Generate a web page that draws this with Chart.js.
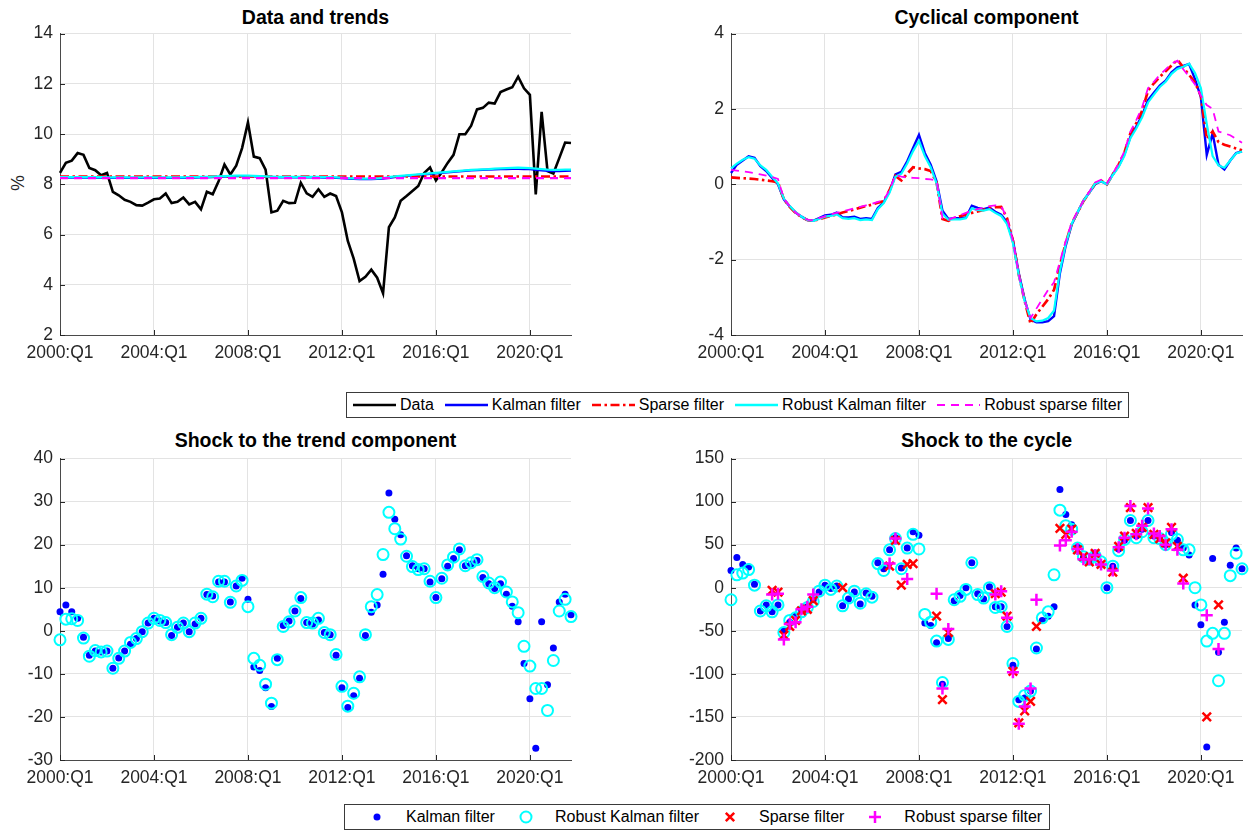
<!DOCTYPE html>
<html>
<head>
<meta charset="utf-8">
<script src="https://cdn.jsdelivr.net/npm/chart.js@4.4.1/dist/chart.umd.min.js"></script>
<style>
  html, body { margin: 0; padding: 0; background: #fff; }
  #fig { position: relative; width: 1252px; height: 832px; overflow: hidden;
         font-family: "Liberation Sans", Arial, Helvetica, sans-serif; color: #262626; background: #fff; }
  canvas.panel { position: absolute; }
  .title { position: absolute; text-align: center; font-weight: bold; font-size: 19.5px;
           line-height: 22px; color: #000; white-space: nowrap; }
  .ylab { position: absolute; font-size: 17.5px; line-height: 20px; color: #262626;
          transform: translate(-50%, -50%) rotate(-90deg); white-space: nowrap; }
  .legend { position: absolute; box-sizing: border-box; border: 1px solid #3a3a3a; background: #fff;
            display: flex; align-items: center; font-size: 16px; color: #000; white-space: nowrap; }
  .legend svg { display: block; flex: none; }
  .legend .txt { display: block; line-height: 18px; }
</style>
</head>
<body>
<div id="fig">
  <div class="title" style="left:60px; width:511px; top:6px;">Data and trends</div>
  <div class="title" style="left:731px; width:511px; top:6px;">Cyclical component</div>
  <div class="title" style="left:60px; width:511px; top:429px;">Shock to the trend component</div>
  <div class="title" style="left:731px; width:511px; top:429px;">Shock to the cycle</div>
  <div class="ylab" style="left:18px; top:183px;">%</div>

  <canvas id="cTrend" class="panel" width="584" height="349" style="left:0px; top:16px;"></canvas>
  <canvas id="cCycle" class="panel" width="584" height="349" style="left:671px; top:16px;"></canvas>
  <canvas id="cShockTrend" class="panel" width="584" height="349" style="left:0px; top:441px;"></canvas>
  <canvas id="cShockCycle" class="panel" width="584" height="349" style="left:671px; top:441px;"></canvas>

  <div id="legLines" class="legend" style="left:346px; top:392px; height:26px; padding:0 6px 0 6px;"></div>
  <div id="legMarkers" class="legend" style="left:344px; top:804px; height:26px; padding:0 7px 0 3px;"></div>
</div>

<script>
// Quarterly sample 2000:Q1 - 2021:Q4
const quarters = [];
for (let yr = 2000; yr <= 2021; yr++) {
  for (let q = 1; q <= 4; q++) quarters.push(yr + ':Q' + q);
}
const tickLabels = ['2000:Q1', '2004:Q1', '2008:Q1', '2012:Q1', '2016:Q1', '2020:Q1'];

// Observed series (%)
const observed = [
  8.45, 8.85, 8.94, 9.24, 9.17, 8.65, 8.56, 8.36, 8.45, 7.70,
  7.56, 7.38, 7.30, 7.17, 7.15, 7.27, 7.40, 7.43, 7.63, 7.25,
  7.30, 7.47, 7.20, 7.30, 7.00, 7.70, 7.60, 8.12, 8.78, 8.39,
  8.74, 9.44, 10.46, 9.10, 9.04, 8.58, 6.88, 6.95, 7.34, 7.25,
  7.26, 8.06, 7.64, 7.50, 7.80, 7.50, 7.63, 7.53, 6.88, 5.74,
  5.04, 4.15, 4.32, 4.60, 4.28, 3.66, 6.29, 6.68, 7.34, 7.53,
  7.73, 7.93, 8.45, 8.67, 8.15, 8.48, 8.85, 9.17, 9.99, 9.99,
  10.33, 10.98, 11.04, 11.25, 11.21, 11.67, 11.77, 11.86, 12.28, 11.82,
  11.56, 7.60, 10.88, 8.52, 8.43, 9.04, 9.66, 9.64
];

// Estimated trends
const trendKalman = [
  8.26, 8.26, 8.26, 8.26, 8.26, 8.26, 8.26, 8.26, 8.25, 8.25,
  8.25, 8.25, 8.25, 8.25, 8.25, 8.25, 8.25, 8.25, 8.25, 8.25,
  8.25, 8.25, 8.26, 8.26, 8.27, 8.27, 8.28, 8.29, 8.30, 8.31,
  8.32, 8.32, 8.32, 8.31, 8.30, 8.29, 8.28, 8.27, 8.27, 8.27,
  8.27, 8.27, 8.27, 8.27, 8.27, 8.26, 8.26, 8.25, 8.24, 8.22,
  8.21, 8.20, 8.20, 8.20, 8.21, 8.22, 8.25, 8.28, 8.30, 8.33,
  8.35, 8.37, 8.39, 8.41, 8.43, 8.45, 8.47, 8.49, 8.51, 8.53,
  8.55, 8.56, 8.57, 8.58, 8.59, 8.60, 8.60, 8.61, 8.61, 8.60,
  8.60, 8.57, 8.55, 8.53, 8.52, 8.52, 8.53, 8.54
];
const trendSparse = [
  8.31, 8.31, 8.31, 8.31, 8.31, 8.31, 8.31, 8.31, 8.31, 8.31,
  8.31, 8.31, 8.31, 8.31, 8.31, 8.31, 8.31, 8.31, 8.31, 8.31,
  8.31, 8.31, 8.31, 8.31, 8.31, 8.31, 8.31, 8.31, 8.31, 8.31,
  8.31, 8.31, 8.31, 8.31, 8.31, 8.31, 8.31, 8.31, 8.31, 8.31,
  8.31, 8.31, 8.31, 8.31, 8.31, 8.31, 8.31, 8.31, 8.31, 8.31,
  8.31, 8.31, 8.31, 8.31, 8.31, 8.31, 8.31, 8.31, 8.31, 8.31,
  8.31, 8.31, 8.31, 8.31, 8.31, 8.31, 8.31, 8.31, 8.31, 8.31,
  8.31, 8.31, 8.31, 8.31, 8.31, 8.31, 8.31, 8.31, 8.31, 8.31,
  8.31, 8.31, 8.31, 8.31, 8.31, 8.31, 8.31, 8.31
];
const trendRobustKalman = [
  8.28, 8.28, 8.28, 8.28, 8.28, 8.28, 8.28, 8.28, 8.27, 8.27,
  8.27, 8.27, 8.27, 8.27, 8.27, 8.27, 8.27, 8.27, 8.27, 8.27,
  8.27, 8.27, 8.28, 8.28, 8.29, 8.29, 8.30, 8.31, 8.32, 8.33,
  8.34, 8.34, 8.34, 8.33, 8.32, 8.31, 8.30, 8.29, 8.29, 8.29,
  8.29, 8.29, 8.29, 8.29, 8.29, 8.28, 8.28, 8.27, 8.26, 8.24,
  8.23, 8.22, 8.22, 8.22, 8.23, 8.25, 8.28, 8.31, 8.33, 8.35,
  8.37, 8.39, 8.41, 8.43, 8.45, 8.47, 8.49, 8.51, 8.53, 8.55,
  8.57, 8.58, 8.59, 8.60, 8.62, 8.63, 8.64, 8.65, 8.66, 8.65,
  8.64, 8.62, 8.60, 8.58, 8.57, 8.57, 8.58, 8.58
];
const trendRobustSparse = [
  8.24, 8.24, 8.24, 8.24, 8.24, 8.24, 8.24, 8.24, 8.24, 8.24,
  8.24, 8.24, 8.24, 8.24, 8.24, 8.24, 8.24, 8.24, 8.24, 8.24,
  8.24, 8.24, 8.24, 8.24, 8.24, 8.24, 8.24, 8.24, 8.24, 8.24,
  8.24, 8.24, 8.24, 8.24, 8.24, 8.24, 8.24, 8.24, 8.24, 8.24,
  8.24, 8.24, 8.24, 8.24, 8.24, 8.24, 8.24, 8.24, 8.24, 8.24,
  8.24, 8.24, 8.24, 8.24, 8.24, 8.24, 8.24, 8.24, 8.24, 8.24,
  8.24, 8.24, 8.24, 8.24, 8.24, 8.24, 8.24, 8.24, 8.24, 8.24,
  8.24, 8.24, 8.24, 8.24, 8.24, 8.24, 8.24, 8.24, 8.24, 8.24,
  8.24, 8.24, 8.24, 8.24, 8.24, 8.24, 8.24, 8.24
];

// Estimated cyclical components
const cycleKalman = [
  0.30, 0.52, 0.63, 0.74, 0.70, 0.48, 0.35, 0.17, 0.00, -0.40,
  -0.59, -0.75, -0.86, -0.95, -0.97, -0.90, -0.83, -0.81, -0.75, -0.88,
  -0.88, -0.86, -0.92, -0.90, -0.92, -0.63, -0.48, -0.18, 0.26, 0.33,
  0.61, 0.96, 1.31, 0.83, 0.52, 0.08, -0.70, -0.92, -0.90, -0.90,
  -0.88, -0.57, -0.63, -0.66, -0.62, -0.73, -0.81, -1.01, -1.49, -2.36,
  -3.06, -3.59, -3.66, -3.66, -3.63, -3.50, -2.36, -1.62, -1.07, -0.75,
  -0.44, -0.22, 0.00, 0.08, 0.00, 0.26, 0.48, 0.80, 1.26, 1.53,
  1.83, 2.23, 2.43, 2.62, 2.75, 2.97, 3.10, 3.14, 3.19, 2.79,
  2.31, 0.78, 1.35, 0.52, 0.39, 0.63, 0.83, 0.87
];
const cycleSparse = [
  0.18, 0.17, 0.16, 0.15, 0.14, 0.12, 0.10, 0.08, 0.05, -0.40,
  -0.60, -0.76, -0.87, -0.95, -0.97, -0.93, -0.88, -0.84, -0.80, -0.75,
  -0.71, -0.67, -0.62, -0.58, -0.54, -0.49, -0.45, -0.15, 0.22, 0.10,
  0.28, 0.45, 0.42, 0.40, 0.35, 0.05, -0.92, -0.97, -0.90, -0.85,
  -0.80, -0.76, -0.72, -0.68, -0.64, -0.61, -0.60, -0.90, -1.50, -2.40,
  -3.10, -3.70, -3.45, -3.25, -3.05, -2.80, -2.15, -1.55, -1.05, -0.75,
  -0.45, -0.22, 0.02, 0.10, 0.00, 0.26, 0.52, 0.85, 1.35, 1.62,
  1.95, 2.48, 2.68, 2.85, 3.00, 3.15, 3.30, 3.10, 2.90, 2.70,
  2.35, 1.20, 1.40, 1.12, 1.05, 1.00, 0.95, 0.90
];
const cycleRobustKalman = [
  0.42, 0.55, 0.65, 0.72, 0.68, 0.50, 0.38, 0.20, 0.02, -0.38,
  -0.58, -0.74, -0.86, -0.95, -0.97, -0.92, -0.86, -0.84, -0.80, -0.90,
  -0.92, -0.90, -0.95, -0.93, -0.95, -0.66, -0.50, -0.22, 0.20, 0.28,
  0.55, 0.88, 1.15, 0.75, 0.45, 0.02, -0.78, -0.94, -0.93, -0.93,
  -0.90, -0.64, -0.68, -0.70, -0.66, -0.76, -0.84, -1.06, -1.56, -2.42,
  -3.10, -3.55, -3.64, -3.62, -3.55, -3.35, -2.30, -1.58, -1.05, -0.74,
  -0.44, -0.22, 0.02, 0.08, 0.00, 0.24, 0.46, 0.76, 1.22, 1.48,
  1.78, 2.17, 2.38, 2.58, 2.72, 2.93, 3.06, 3.12, 3.20, 2.95,
  2.55, 1.60, 0.75, 0.50, 0.44, 0.63, 0.82, 0.87
];
const cycleRobustSparse = [
  0.38, 0.36, 0.34, 0.32, 0.29, 0.26, 0.23, 0.19, 0.14, -0.38,
  -0.58, -0.75, -0.86, -0.94, -0.96, -0.90, -0.85, -0.80, -0.76, -0.72,
  -0.68, -0.64, -0.60, -0.56, -0.52, -0.47, -0.42, -0.15, 0.25, 0.20,
  0.18, 0.17, 0.16, 0.14, 0.13, 0.10, -0.90, -0.95, -0.88, -0.82,
  -0.76, -0.70, -0.66, -0.62, -0.58, -0.56, -0.58, -0.90, -1.50, -2.40,
  -3.10, -3.55, -3.30, -3.05, -2.80, -2.60, -2.05, -1.50, -1.02, -0.72,
  -0.44, -0.20, 0.05, 0.12, 0.02, 0.28, 0.55, 0.88, 1.40, 1.70,
  2.05, 2.55, 2.72, 2.90, 3.05, 3.20, 3.28, 3.05, 2.85, 2.65,
  2.35, 2.10, 2.00, 1.40, 1.35, 1.30, 1.20, 1.10
];

// Shocks to the trend component
const trendShockKalman = [
  4.4, 6.0, 4.4, 2.9, -1.5, -5.7, -4.7, -4.9, -4.7, -8.7,
  -6.3, -4.7, -3.1, -1.8, -0.2, 1.8, 2.9, 2.3, 1.9, -1.1,
  0.8, 1.8, -0.2, 1.6, 2.9, 8.4, 8.1, 11.3, 11.3, 6.7,
  10.4, 12.2, 7.3, -8.4, -9.2, -13.2, -17.6, -6.4, 1.2, 2.3,
  4.6, 7.5, 1.9, 1.5, 2.5, -0.4, -0.9, -5.7, -13.2, -17.8,
  -15.1, -11.0, -1.1, 4.3, 6.0, 13.1, 32.0, 25.9, 22.3, 17.4,
  15.1, 14.4, 14.4, 11.3, 7.7, 12.1, 15.0, 16.8, 18.8, 15.1,
  15.5, 16.3, 12.4, 10.9, 9.8, 10.9, 8.5, 5.7, 2.1, -7.6,
  -15.8, -27.3, 2.1, -12.5, -4.0, 6.7, 8.5, 3.7
];
const trendShockRobustKalman = [
  -2.1, 2.7, 2.8, 2.4, -1.7, -5.9, -4.6, -4.9, -4.7, -8.7,
  -6.4, -4.7, -2.7, -1.8, -0.2, 1.8, 2.9, 2.4, 1.9, -0.9,
  0.8, 1.8, -0.2, 1.8, 2.9, 8.5, 7.9, 11.5, 11.5, 6.6,
  10.4, 11.7, 5.6, -6.4, -8.0, -12.4, -16.8, -6.7, 1.0, 2.1,
  4.6, 7.7, 1.9, 1.8, 2.9, -0.4, -0.9, -5.5, -12.9, -17.5,
  -14.5, -10.7, -0.9, 5.6, 8.4, 17.7, 27.5, 23.7, 21.3, 17.3,
  14.9, 14.2, 14.4, 11.5, 7.7, 12.2, 15.3, 17.1, 19.0, 15.1,
  15.8, 16.5, 12.6, 11.1, 10.0, 11.3, 9.0, 6.7, 4.2, -3.6,
  -8.2, -13.4, -13.4, -18.5, -6.9, 4.6, 7.3, 3.3
];

// Shocks to the cycle (null = no shock estimated for that quarter)
const cycleShockKalman = [
  20, 35, 27, 24, 4, -27, -20, -28, -20, -50,
  -40, -33, -26, -22, -14, -5, 3, -1, 2, -21,
  -13, -5, -19, -6, -10, 29, 22, 44, 58, 23,
  46, 65, 61, -41, -44, -64, -112, -59, -15, -9,
  0, 29, -7, -13, 1, -22, -22, -45, -90, -130,
  -128, -120, -71, -38, -33, -22, 114, 85, 73, 47,
  35, 31, 40, 27, 0, 25, 45, 55, 78, 60,
  68, 78, 60, 58, 50, 64, 55, 46, 38, -20,
  -43, -185, 34, -75, -40, 26, 46, 22
];
const cycleShockRobustKalman = [
  -14, 15, 17, 21, 3, -27, -21, -28, -20, -52,
  -38, -35, -28, -23, -16, -4, 3, -2, 2, -21,
  -12, -4, -18, -7, -11, 28, 20, 44, 57, 22,
  46, 62, 45, -31, -40, -62, -110, -60, -14, -10,
  -2, 29, -8, -12, 0, -23, -22, -45, -88, -132,
  -125, -120, -70, -35, -28, 15, 90, 72, 68, 46,
  36, 33, 37, 30, 0, 25, 43, 56, 78, 58,
  65, 78, 58, 57, 50, 62, 56, 44, 44, 0,
  -20, -62, -53, -108, -53, 14, 40, 22
];
const cycleShockSparse = [
  null, null, null, null, null, null, null, -3, -5, -55,
  -45, -38, -27, -25, -15, null, null, null, null, 0,
  null, null, null, null, null, null, null, 25, 55, 3,
  27, 28, null, null, null, -33, -130, -52, null, null,
  null, null, null, null, null, -7, -5, -33, -97, -157,
  -143, -132, -45, null, null, null, 69, 62, 68, 44,
  36, 30, 40, 27, null, 18, 48, 60, 93, 63,
  70, 93, 62, 57, 52, 70, 48, 11, null, null,
  null, -150, null, -20, null, null, null, null
];
const cycleShockRobustSparse = [
  null, null, null, null, null, null, null, -8, -7, -60,
  -42, -40, -25, -22, -8, null, null, null, null, null,
  null, null, null, null, null, null, null, 28, 57, null,
  10, null, null, null, null, -7, -117, -48, null, null,
  null, null, null, null, null, -8, -4, -35, -98, -158,
  -138, -117, -14, null, null, null, 49, 55, 65, 45,
  33, 33, 38, 27, null, 20, 47, 58, 95, 62,
  72, 92, 63, 60, 50, 68, 44, 5, null, null,
  null, -32, null, -71, null, null, null, null
];

const FONT = '"Liberation Sans", Arial, Helvetica, sans-serif';
const GRID = '#e3e3e3';
const AXIS = '#4a4a4a';
const TICK = '#262626';
const BLUE = '#0000ff', RED = '#ff0000', CYAN = '#00ffff', MAGENTA = '#ff00ff';
const DASHDOT = [9, 3.5, 2.5, 3.5];
const DASHED = [8, 6];

// Short tick marks pointing into the plot area, drawn at the scales' own tick positions
const inwardTicks = {
  id: 'inwardTicks',
  beforeDatasetsDraw(chart) {
    const { ctx, chartArea, scales } = chart;
    const x = scales.x, y = scales.y;
    ctx.save();
    ctx.strokeStyle = TICK;
    ctx.lineWidth = 1;
    ctx.beginPath();
    x.ticks.forEach((t, i) => {
      const px = Math.round(x.getPixelForTick(i)) + 0.5;
      ctx.moveTo(px, chartArea.bottom);
      ctx.lineTo(px, chartArea.bottom - 5);
    });
    y.ticks.forEach((t, i) => {
      const py = Math.round(y.getPixelForTick(i)) + 0.5;
      ctx.moveTo(chartArea.left, py);
      ctx.lineTo(chartArea.left + 5, py);
    });
    ctx.stroke();
    ctx.restore();
  }
};

function makePanel(id, datasets, yMin, yMax, yStep) {
  // later datasets are painted over earlier ones
  datasets.forEach((d, i) => { d.order = -i; d.clip = false; });
  return new Chart(document.getElementById(id), {
    type: 'line',
    data: { labels: quarters, datasets },
    options: {
      responsive: false,
      animation: false,
      devicePixelRatio: 1,
      events: [],
      layout: { padding: { top: 15, right: 13, left: 0, bottom: 0 } },
      plugins: { legend: { display: false }, tooltip: { enabled: false }, title: { display: false } },
      elements: { line: { tension: 0 } },
      scales: {
        x: {
          type: 'category',
          offset: false,
          grid: { color: GRID, lineWidth: 1, drawTicks: false },
          border: { color: AXIS, width: 1 },
          ticks: {
            autoSkip: false, maxRotation: 0, padding: 8, color: TICK,
            font: { family: FONT, size: 17.5 },
            callback: function (v) { return this.getLabelForValue(v); }
          },
          afterBuildTicks: s => { s.ticks = tickLabels.map(l => ({ value: quarters.indexOf(l) })); },
          afterFit: s => { s.height = 30; }
        },
        y: {
          min: yMin, max: yMax,
          grid: { color: GRID, lineWidth: 1, drawTicks: false },
          border: { color: AXIS, width: 1 },
          ticks: { stepSize: yStep, padding: 7, color: TICK, font: { family: FONT, size: 17.5 } },
          afterFit: s => { s.width = 60; }
        }
      }
    },
    plugins: [inwardTicks]
  });
}

function lineSet(label, data, color, width, dash) {
  return { label, data, borderColor: color, backgroundColor: color, borderWidth: width,
           borderDash: dash || [], pointRadius: 0, fill: false, spanGaps: false };
}

function markerSet(label, data, style, radius, fillColor, strokeColor, width) {
  return { label, data, showLine: false, pointStyle: style, pointRadius: radius,
           pointBackgroundColor: fillColor, pointBorderColor: strokeColor, pointBorderWidth: width,
           borderColor: strokeColor, backgroundColor: fillColor };
}

makePanel('cTrend', [
  lineSet('Data', observed, '#000000', 2.6),
  lineSet('Kalman filter', trendKalman, BLUE, 2.2),
  lineSet('Sparse filter', trendSparse, RED, 2.6, DASHDOT),
  lineSet('Robust Kalman filter', trendRobustKalman, CYAN, 2.2),
  lineSet('Robust sparse filter', trendRobustSparse, MAGENTA, 2.2, DASHED)
], 2, 14, 2);

makePanel('cCycle', [
  lineSet('Kalman filter', cycleKalman, BLUE, 2.4),
  lineSet('Sparse filter', cycleSparse, RED, 2.7, DASHDOT),
  lineSet('Robust Kalman filter', cycleRobustKalman, CYAN, 2.2),
  lineSet('Robust sparse filter', cycleRobustSparse, MAGENTA, 1.8, DASHED)
], -4, 4, 2);

makePanel('cShockTrend', [
  markerSet('Kalman filter', trendShockKalman, 'circle', 3.5, BLUE, BLUE, 0),
  markerSet('Robust Kalman filter', trendShockRobustKalman, 'circle', 5.5, 'rgba(0,0,0,0)', CYAN, 2)
], -30, 40, 10);

makePanel('cShockCycle', [
  markerSet('Kalman filter', cycleShockKalman, 'circle', 3.5, BLUE, BLUE, 0),
  markerSet('Robust Kalman filter', cycleShockRobustKalman, 'circle', 5.5, 'rgba(0,0,0,0)', CYAN, 2),
  markerSet('Sparse filter', cycleShockSparse, 'crossRot', 6, RED, RED, 2.5),
  markerSet('Robust sparse filter', cycleShockRobustSparse, 'cross', 6, MAGENTA, MAGENTA, 2.5)
], -200, 150, 50);

// Shared legends
const lineKeys = [
  { label: 'Data', color: '#000000', width: 2.6, dash: '' },
  { label: 'Kalman filter', color: BLUE, width: 2.4, dash: '' },
  { label: 'Sparse filter', color: RED, width: 2.6, dash: DASHDOT.join(',') },
  { label: 'Robust Kalman filter', color: CYAN, width: 2.4, dash: '' },
  { label: 'Robust sparse filter', color: MAGENTA, width: 2.2, dash: DASHED.join(',') }
];
const legLines = document.getElementById('legLines');
lineKeys.forEach((k, i) => {
  const item = document.createElement('span');
  item.style.display = 'flex';
  item.style.alignItems = 'center';
  item.style.marginLeft = i === 0 ? '0px' : '11px';
  item.innerHTML =
    '<svg width="43" height="12"><line x1="0" y1="6" x2="43" y2="6" stroke="' + k.color +
    '" stroke-width="' + k.width + '"' + (k.dash ? ' stroke-dasharray="' + k.dash + '"' : '') + '/></svg>' +
    '<span class="txt" style="margin-left:4px">' + k.label + '</span>';
  legLines.appendChild(item);
});

const markerKeys = [
  { label: 'Kalman filter', svg: '<circle cx="29" cy="9" r="3.5" fill="' + BLUE + '"/>' },
  { label: 'Robust Kalman filter', svg: '<circle cx="29" cy="9" r="5.5" fill="none" stroke="' + CYAN + '" stroke-width="2"/>' },
  { label: 'Sparse filter', svg: '<path d="M24.8 4.8 L33.2 13.2 M33.2 4.8 L24.8 13.2" stroke="' + RED + '" stroke-width="2.5"/>' },
  { label: 'Robust sparse filter', svg: '<path d="M23 9 L35 9 M29 3 L29 15" stroke="' + MAGENTA + '" stroke-width="2.5"/>' }
];
const legMarkers = document.getElementById('legMarkers');
markerKeys.forEach((k, i) => {
  const item = document.createElement('span');
  item.style.display = 'flex';
  item.style.alignItems = 'center';
  item.style.marginLeft = i === 0 ? '0px' : '2px';
  item.innerHTML = '<svg width="58" height="18">' + k.svg + '</svg><span class="txt">' + k.label + '</span>';
  legMarkers.appendChild(item);
});
</script>
</body>
</html>
